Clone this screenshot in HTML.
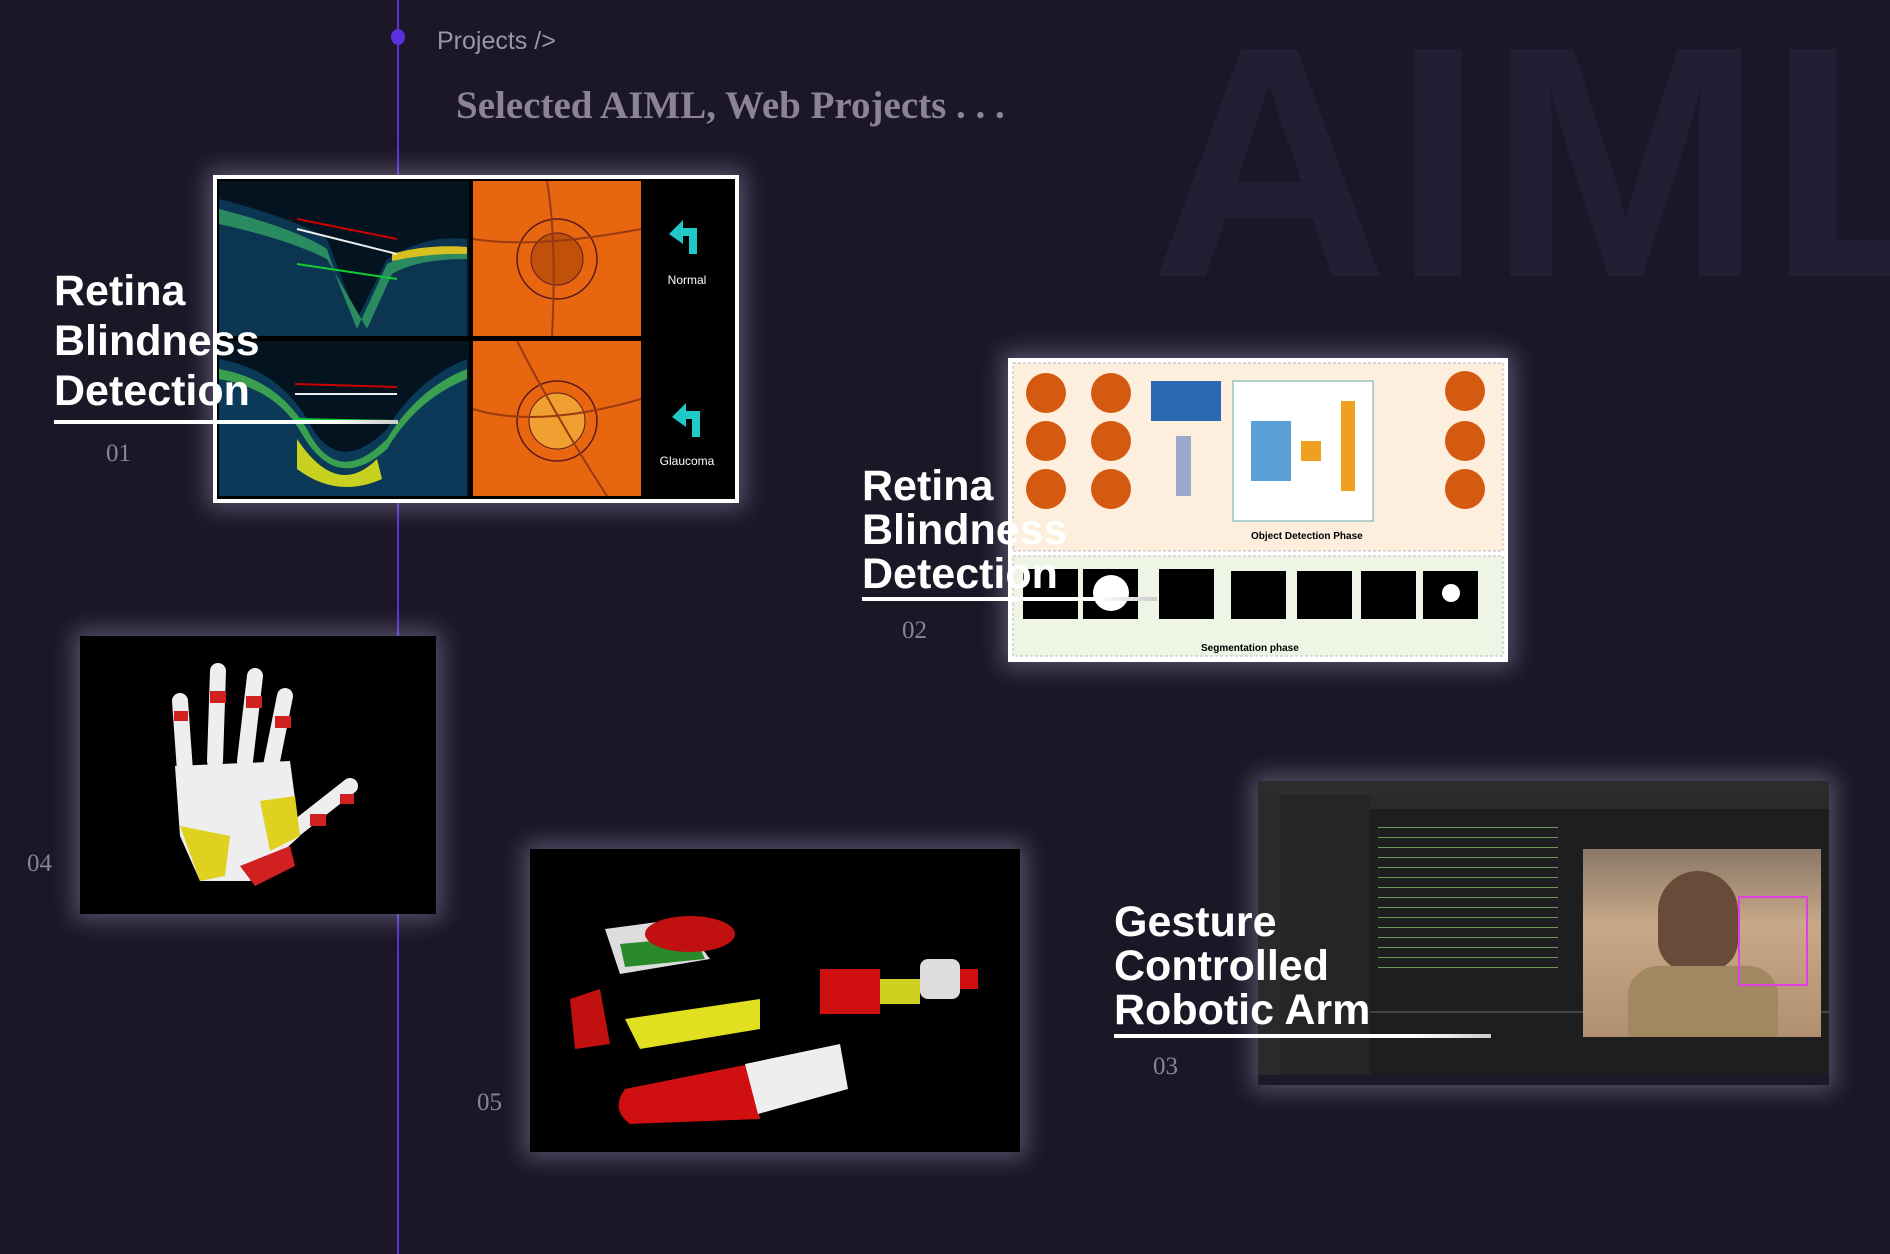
<!DOCTYPE html>
<html><head><meta charset="utf-8"><style>
*{margin:0;padding:0;box-sizing:border-box}
body{width:1890px;height:1254px;background:#1b1727;position:relative;overflow:hidden;font-family:"Liberation Sans",sans-serif}
.abs{position:absolute}
.wm{left:1150px;top:-28px;font-size:330px;font-weight:bold;color:#231e33;letter-spacing:4px;white-space:nowrap}
.vline{left:397px;top:0;width:2px;height:1254px;background:#5a30d6}
.dot{left:391px;top:29px;width:14px;height:16px;border-radius:50%;background:#5a2fe0}
.proj{left:437px;top:27px;font-size:25px;color:#9a96a6}
.sel{left:456px;top:83px;font-family:"Liberation Serif",serif;font-weight:bold;font-size:39px;color:#8a8494}
.img{position:absolute;overflow:hidden;box-shadow:0 0 22px 6px rgba(200,190,230,.35)}
.title{position:absolute;color:#fff;font-weight:bold;font-size:43px;line-height:50px}
.t2{line-height:44px}
.ul{position:absolute;height:4px;background:linear-gradient(90deg,#fff 80%,#ccc)}
.num{position:absolute;font-family:"Liberation Serif",serif;font-size:25px;color:#8a8494}
</style></head><body>
<div class="abs wm">AIML</div>
<div class="abs vline"></div>
<div class="abs dot"></div>
<div class="abs proj">Projects /&gt;</div>
<div class="abs sel">Selected AIML, Web Projects . . .</div>

<!-- image 1 -->
<div class="img" style="left:213px;top:175px;width:526px;height:328px;background:#fff;padding:4px">
<svg width="518" height="320" viewBox="0 0 518 320">
<rect width="518" height="320" fill="#000"/>
<rect x="2" y="2" width="250" height="155" fill="#031420"/>
<path d="M2 20 Q80 40 110 60 L140 140 L170 80 Q210 55 250 60 L250 157 L2 157Z" fill="#0b3550"/>
<path d="M2 30 Q80 50 110 70 L120 100 L140 150 L170 85 Q210 65 250 70 L250 80 Q200 80 175 95 L150 150 L110 80 Q70 60 2 45Z" fill="#2a8a60"/>
<path d="M175 75 Q210 65 250 68 L250 75 Q210 74 175 82Z" fill="#d8c020"/>
<rect x="2" y="162" width="250" height="155" fill="#031420"/>
<path d="M2 180 Q60 190 90 240 Q120 300 170 250 Q200 200 250 180 L250 317 L2 317Z" fill="#0b3a58"/>
<path d="M2 190 Q60 200 90 250 Q120 310 170 260 Q200 210 250 190 L250 200 Q200 220 170 270 Q120 315 85 255 Q60 210 2 200Z" fill="#3aa050"/>
<path d="M80 260 Q120 320 160 280 L165 300 Q120 320 80 290Z" fill="#c8d020"/>
<line x1="80" y1="40" x2="180" y2="60" stroke="#c00" stroke-width="2"/>
<line x1="80" y1="50" x2="180" y2="75" stroke="#eee" stroke-width="2"/>
<line x1="80" y1="85" x2="180" y2="100" stroke="#1c3" stroke-width="2"/>
<line x1="78" y1="205" x2="180" y2="208" stroke="#c00" stroke-width="2"/>
<line x1="78" y1="215" x2="180" y2="215" stroke="#eee" stroke-width="2"/>
<line x1="78" y1="240" x2="180" y2="242" stroke="#1c3" stroke-width="2"/>
<rect x="256" y="2" width="168" height="155" fill="#e8660f"/>
<rect x="256" y="162" width="168" height="155" fill="#e8660f"/>
<circle cx="340" cy="80" r="40" fill="none" stroke="#5a1a20" stroke-width="1.5"/>
<circle cx="340" cy="80" r="26" fill="#c0500a" stroke="#5a1a20"/>
<circle cx="340" cy="242" r="40" fill="none" stroke="#5a1a20" stroke-width="1.5"/>
<circle cx="340" cy="242" r="28" fill="#f0a030" stroke="#5a1a20"/>
<path d="M330 2 Q340 60 335 157 M256 60 Q320 70 424 50 M300 162 Q340 240 390 317 M256 230 Q320 250 424 220" stroke="#9a3a10" stroke-width="2" fill="none"/>
<path d="M452 55 l14 -14 v8 h14 v26 h-8 v-18 h-6 v8z" fill="#20c8c8"/>
<text x="470" y="105" fill="#fff" font-size="12" text-anchor="middle" font-family="Liberation Sans">Normal</text>
<path d="M455 238 l14 -14 v8 h14 v26 h-8 v-18 h-6 v8z" fill="#20c8c8"/>
<text x="470" y="286" fill="#fff" font-size="12" text-anchor="middle" font-family="Liberation Sans">Glaucoma</text>
</svg></div>
<div class="title" style="left:54px;top:266px">Retina<br>Blindness<br>Detection</div>
<div class="ul" style="left:54px;top:420px;width:344px"></div>
<div class="num" style="left:106px;top:440px">01</div>

<!-- image 2 -->
<div class="img" style="left:1008px;top:358px;width:500px;height:304px;background:#fff;padding:3px">
<svg width="494" height="298" viewBox="0 0 494 298">
<rect width="494" height="298" fill="#fff"/>
<rect x="2" y="2" width="490" height="188" fill="#fdeedd" stroke="#bbb" stroke-dasharray="3 2"/>
<rect x="2" y="195" width="490" height="100" fill="#eef5e4" stroke="#bbb" stroke-dasharray="3 2"/>
<g fill="#d35a10"><circle cx="35" cy="32" r="20"/><circle cx="35" cy="80" r="20"/><circle cx="35" cy="128" r="20"/><circle cx="100" cy="32" r="20"/><circle cx="100" cy="80" r="20"/><circle cx="100" cy="128" r="20"/><circle cx="454" cy="30" r="20"/><circle cx="454" cy="80" r="20"/><circle cx="454" cy="128" r="20"/></g>
<rect x="140" y="20" width="70" height="40" fill="#2a6ab0"/>
<rect x="222" y="20" width="140" height="140" fill="#fff" stroke="#6aa"/>
<rect x="240" y="60" width="40" height="60" fill="#5aa0d8"/>
<rect x="290" y="80" width="20" height="20" fill="#f0a020"/>
<rect x="330" y="40" width="14" height="90" fill="#f0a020"/>
<rect x="165" y="75" width="15" height="60" fill="#9ac"/>
<text x="240" y="178" font-size="10" font-family="Liberation Sans" fill="#000" font-weight="bold">Object Detection Phase</text>
<text x="190" y="290" font-size="10" font-family="Liberation Sans" fill="#000" font-weight="bold">Segmentation phase</text>
<g fill="#000"><rect x="12" y="208" width="55" height="50"/><rect x="72" y="208" width="55" height="50"/><rect x="148" y="208" width="55" height="50"/><rect x="220" y="210" width="55" height="48"/><rect x="286" y="210" width="55" height="48"/><rect x="350" y="210" width="55" height="48"/><rect x="412" y="210" width="55" height="48"/></g>
<circle cx="100" cy="232" r="18" fill="#fff"/>
<circle cx="440" cy="232" r="9" fill="#fff"/>
</svg></div>
<div class="title t2" style="left:862px;top:464px">Retina<br>Blindness<br>Detection</div>
<div class="ul" style="left:862px;top:597px;width:295px"></div>
<div class="num" style="left:902px;top:617px">02</div>

<!-- image 3 vscode -->
<div class="img" style="left:1258px;top:781px;width:571px;height:304px;background:#1e1e1e">
<div class="abs" style="left:0;top:0;width:571px;height:14px;background:#2c2c2c"></div>
<div class="abs" style="left:0;top:14px;width:22px;height:280px;background:#2a2a2a"></div>
<div class="abs" style="left:22px;top:14px;width:90px;height:280px;background:#252526"></div>
<div class="abs" style="left:112px;top:14px;width:459px;height:14px;background:#2a2a2a"></div>
<div class="abs" style="left:120px;top:40px;width:180px;height:150px;background:repeating-linear-gradient(#1e1e1e 0 6px,#6a9955 6px 7px,#1e1e1e 7px 10px)"></div>
<div class="abs" style="left:112px;top:230px;width:459px;height:2px;background:#444"></div>
<div class="abs" style="left:0;top:294px;width:571px;height:10px;background:#1a1a2a"></div>
<div class="abs" style="left:325px;top:68px;width:238px;height:188px;background:linear-gradient(180deg,#8a7868,#c8a888 40%,#b09070)"></div>
<div class="abs" style="left:400px;top:90px;width:80px;height:100px;border-radius:40px 40px 30px 30px;background:#6a4a38"></div>
<div class="abs" style="left:370px;top:185px;width:150px;height:71px;background:#a08860;border-radius:30px 30px 0 0"></div>
<div class="abs" style="left:480px;top:115px;width:70px;height:90px;border:2px solid #e040e0"></div>
</div>
<div class="title t2" style="left:1114px;top:900px">Gesture<br>Controlled<br>Robotic Arm</div>
<div class="ul" style="left:1114px;top:1034px;width:377px"></div>
<div class="num" style="left:1153px;top:1053px">03</div>

<!-- image 4 hand -->
<div class="img" style="left:80px;top:636px;width:356px;height:278px;background:#000">
<svg width="356" height="278" viewBox="0 0 356 278">
<g stroke-linecap="round" stroke-width="16">
<line x1="105" y1="135" x2="100" y2="65" stroke="#eee"/>
<line x1="135" y1="125" x2="138" y2="35" stroke="#eee"/>
<line x1="165" y1="125" x2="175" y2="40" stroke="#eee"/>
<line x1="190" y1="135" x2="205" y2="60" stroke="#eee"/>
<line x1="200" y1="205" x2="270" y2="150" stroke="#eee"/>
</g>
<g fill="#d02020"><rect x="94" y="75" width="14" height="10"/><rect x="130" y="55" width="16" height="12"/><rect x="166" y="60" width="16" height="12"/><rect x="195" y="80" width="16" height="12"/><rect x="230" y="178" width="16" height="12"/><rect x="260" y="158" width="14" height="10"/></g>
<path d="M95 130 L210 125 L220 200 L170 245 L120 245 L100 200Z" fill="#eee"/>
<path d="M100 190 L150 200 L145 240 L120 245Z" fill="#e0d020"/>
<path d="M180 165 L215 160 L220 200 L190 215Z" fill="#e0d020"/>
<path d="M160 230 L210 210 L215 230 L175 250Z" fill="#d02020"/>
</svg></div>
<div class="num" style="left:27px;top:850px">04</div>

<!-- image 5 -->
<div class="img" style="left:530px;top:849px;width:490px;height:303px;background:#000">
<svg width="490" height="303" viewBox="0 0 490 303">
<path d="M75 80 L150 70 L180 110 L90 125Z" fill="#ddd"/>
<path d="M90 95 L165 88 L175 110 L95 118Z" fill="#2a8a2a"/>
<ellipse cx="160" cy="85" rx="45" ry="18" fill="#c01010"/>
<rect x="290" y="120" width="60" height="45" fill="#d01010"/>
<rect x="350" y="130" width="40" height="25" fill="#d0d020"/>
<rect x="390" y="110" width="40" height="40" rx="8" fill="#ddd"/>
<rect x="430" y="120" width="18" height="20" fill="#d01010"/>
<path d="M95 170 L230 150 L230 180 L110 200Z" fill="#e0e020"/>
<path d="M40 150 L70 140 L80 195 L45 200Z" fill="#c01010"/>
<path d="M95 240 L220 215 L230 270 L100 275 Q80 260 95 240Z" fill="#d01010"/>
<path d="M215 215 L310 195 L318 240 L228 265Z" fill="#eee"/>
</svg></div>
<div class="num" style="left:477px;top:1089px">05</div>
</body></html>
